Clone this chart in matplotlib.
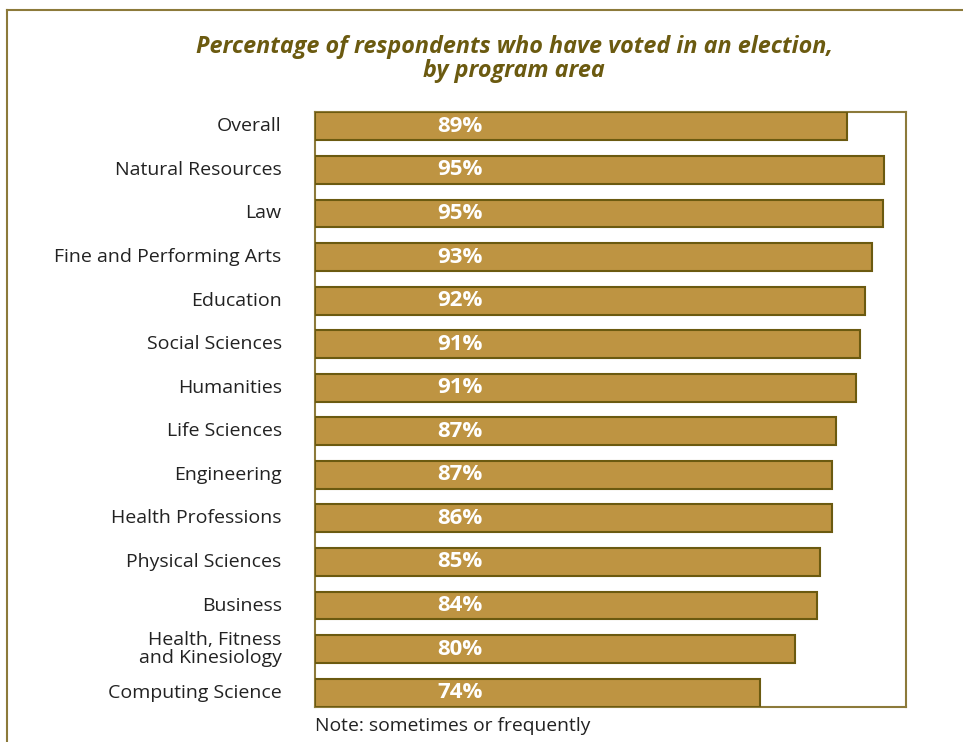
import matplotlib.pyplot as plt
from matplotlib.lines import Line2D

programs = ['Overall', 'Natural Resources', 'Law', 'Fine and Performing Arts',
            'Education', 'Social Sciences', 'Humanities', 'Life Sciences',
            'Engineering', 'Health Professions', 'Physical Sciences', 'Business',
            'Health, Fitness\nand Kinesiology', 'Computing Science']
# bar lengths (slightly unrounded) and the printed percentages
lengths = [88.8, 95.0, 94.7, 93.0, 91.8, 91.0, 90.3, 87.0, 86.3, 86.2, 84.2, 83.8, 80.0, 74.2]
labels = [89, 95, 95, 93, 92, 91, 91, 87, 87, 86, 85, 84, 80, 74]

plt.rcParams['font.family'] = ['Open Sans', 'DejaVu Sans']

gold = '#BE9442'
olive = '#6B5A10'
frame = '#8C7A3A'

fig = plt.figure(figsize=(9.63, 7.42), dpi=100)
ax = fig.add_axes([315/963, 1 - 707/742, 591/963, 595/742])

ypos = list(range(len(programs)))
ax.barh(ypos, lengths, height=0.64, color=gold, edgecolor=olive, linewidth=1.5, zorder=3)
for y, v in zip(ypos, labels):
    ax.text(24.2, y, '%d%%' % v, color='white', fontsize=16, fontweight='bold',
            ha='center', va='center', zorder=4)

ax.set_xlim(0, 98.6)
ax.set_ylim(len(programs) - 1 + 0.33, -0.33)
ax.set_yticks(ypos)
ax.set_yticklabels(programs, fontsize=14, color='#222222', linespacing=0.95, va='center')
ax.tick_params(axis='y', length=0, pad=24)
ax.set_xticks([])
for s in ax.spines.values():
    s.set_color(frame)
    s.set_linewidth(1.5)

fig.text(514/963, 1 - 59/742, 'Percentage of respondents who have voted in an election,\nby program area',
         ha='center', va='center', fontsize=16.8, fontweight='bold', style='italic',
         color=olive, linespacing=0.95)
fig.text(315/963, 1 - 726/742, 'Note: sometimes or frequently', ha='left', va='center',
         fontsize=13.9, color='#222222')

# outer panel border
fig.add_artist(Line2D([7/963, 7/963], [0, 1 - 10/742], transform=fig.transFigure, color=frame, lw=1.5))
fig.add_artist(Line2D([7/963, 1], [1 - 10/742, 1 - 10/742], transform=fig.transFigure, color=frame, lw=1.5))

fig.savefig('out.png', dpi=100)
